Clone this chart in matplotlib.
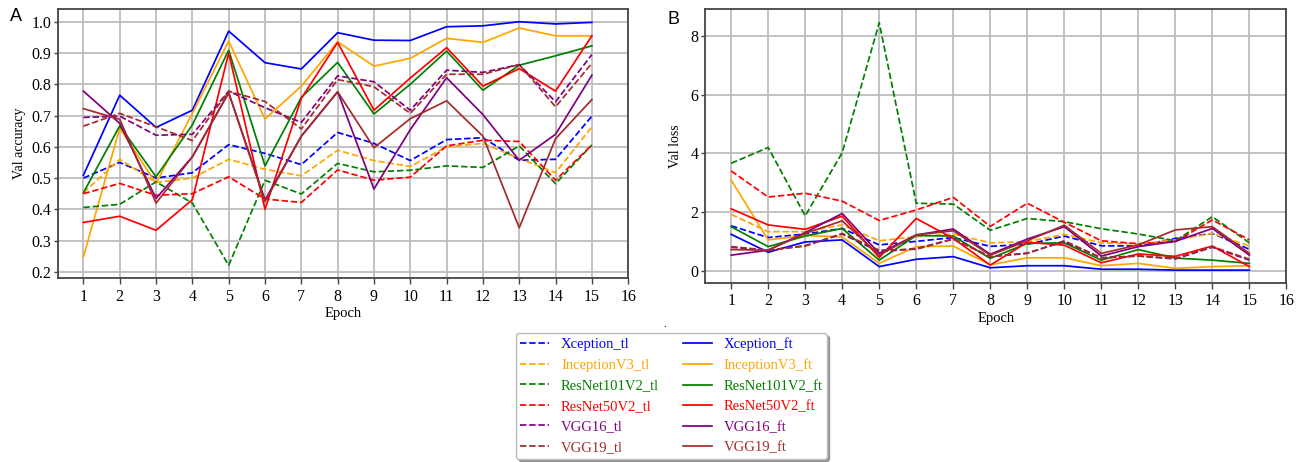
import matplotlib
matplotlib.use("Agg")
import matplotlib.pyplot as plt

epochs = list(range(1, 16))
models = ["Xception", "InceptionV3", "ResNet101V2", "ResNet50V2", "VGG16", "VGG19"]
colors = ["blue", "orange", "green", "red", "purple", "brown"]

# Validation accuracy (transfer learning = tl, fine tuning = ft)
acc_tl = {
    "Xception":    [0.50, 0.55, 0.50, 0.517, 0.607, 0.579, 0.543, 0.646, 0.611, 0.556, 0.623, 0.629, 0.557, 0.56, 0.698],
    "InceptionV3": [0.453, 0.56, 0.486, 0.50, 0.56, 0.528, 0.507, 0.589, 0.556, 0.537, 0.60, 0.611, 0.563, 0.517, 0.664],
    "ResNet101V2": [0.406, 0.416, 0.488, 0.42, 0.221, 0.493, 0.449, 0.547, 0.52, 0.525, 0.539, 0.534, 0.603, 0.482, 0.606],
    "ResNet50V2":  [0.45, 0.483, 0.445, 0.45, 0.504, 0.433, 0.422, 0.526, 0.493, 0.503, 0.603, 0.621, 0.617, 0.493, 0.606],
    "VGG16":       [0.694, 0.698, 0.637, 0.64, 0.778, 0.725, 0.678, 0.827, 0.808, 0.717, 0.845, 0.838, 0.863, 0.744, 0.895],
    "VGG19":       [0.666, 0.707, 0.664, 0.62, 0.778, 0.745, 0.657, 0.815, 0.792, 0.707, 0.832, 0.832, 0.863, 0.728, 0.867],
}
acc_ft = {
    "Xception":    [0.509, 0.765, 0.662, 0.717, 0.97, 0.869, 0.849, 0.965, 0.941, 0.94, 0.984, 0.987, 1.0, 0.993, 0.998],
    "InceptionV3": [0.248, 0.66, 0.483, 0.707, 0.938, 0.689, 0.794, 0.936, 0.858, 0.883, 0.947, 0.934, 0.98, 0.955, 0.955],
    "ResNet101V2": [0.453, 0.667, 0.504, 0.67, 0.909, 0.539, 0.758, 0.87, 0.705, 0.80, 0.906, 0.781, 0.861, 0.891, 0.923],
    "ResNet50V2":  [0.358, 0.378, 0.333, 0.431, 0.90, 0.40, 0.755, 0.934, 0.717, 0.82, 0.917, 0.794, 0.85, 0.778, 0.955],
    "VGG16":       [0.778, 0.675, 0.435, 0.568, 0.773, 0.43, 0.634, 0.776, 0.465, 0.655, 0.821, 0.703, 0.557, 0.64, 0.829],
    "VGG19":       [0.722, 0.688, 0.42, 0.568, 0.773, 0.425, 0.634, 0.776, 0.597, 0.69, 0.747, 0.634, 0.341, 0.626, 0.751],
}
# Validation loss
loss_tl = {
    "Xception":    [1.53, 1.13, 1.25, 1.44, 0.88, 1.0, 1.13, 0.83, 0.9, 1.18, 0.85, 0.84, 1.1, 1.27, 0.73],
    "InceptionV3": [1.92, 1.33, 1.33, 1.56, 1.02, 1.16, 1.25, 0.95, 0.99, 1.24, 0.95, 0.91, 1.05, 1.27, 0.84],
    "ResNet101V2": [3.66, 4.2, 1.87, 4.02, 8.45, 2.3, 2.27, 1.38, 1.78, 1.67, 1.43, 1.25, 1.02, 1.84, 0.95],
    "ResNet50V2":  [3.4, 2.51, 2.64, 2.37, 1.71, 2.07, 2.5, 1.51, 2.3, 1.65, 1.02, 0.92, 0.99, 1.73, 1.05],
    "VGG16":       [0.80, 0.70, 0.85, 1.25, 0.65, 0.75, 1.08, 0.48, 0.60, 0.99, 0.44, 0.50, 0.40, 0.80, 0.36],
    "VGG19":       [0.82, 0.70, 0.84, 1.27, 0.70, 0.73, 1.08, 0.48, 0.59, 1.02, 0.44, 0.50, 0.42, 0.82, 0.39],
}
loss_ft = {
    "Xception":    [1.24, 0.63, 0.98, 1.05, 0.14, 0.39, 0.48, 0.10, 0.17, 0.17, 0.05, 0.05, 0.02, 0.02, 0.02],
    "InceptionV3": [3.09, 1.05, 1.2, 1.15, 0.25, 0.82, 0.84, 0.2, 0.44, 0.44, 0.17, 0.25, 0.08, 0.14, 0.17],
    "ResNet101V2": [1.5, 0.82, 1.18, 1.44, 0.36, 1.2, 1.18, 0.42, 0.93, 0.95, 0.36, 0.72, 0.43, 0.36, 0.25],
    "ResNet50V2":  [2.11, 1.56, 1.41, 1.86, 0.45, 1.78, 1.1, 0.19, 0.97, 0.87, 0.27, 0.57, 0.49, 0.84, 0.14],
    "VGG16":       [0.53, 0.70, 1.3, 1.95, 0.59, 1.22, 1.42, 0.56, 1.08, 1.5, 0.5, 0.82, 1.0, 1.44, 0.53],
    "VGG19":       [0.72, 0.70, 1.27, 1.7, 0.53, 1.22, 1.36, 0.53, 1.02, 1.55, 0.59, 0.88, 1.39, 1.5, 0.59],
}

acc_ticks = [0.2, 0.3, 0.4, 0.5, 0.6, 0.7, 0.8, 0.9, 1.0]
loss_ticks = [0, 2, 4, 6, 8]
x_ticks = list(range(1, 17))

serif = "Liberation Serif"
plt.rcParams["font.family"] = serif

fig = plt.figure(figsize=(13.06, 4.62), dpi=100)
axA = fig.add_axes([0.0444, 0.398, 0.4366, 0.582])
axB = fig.add_axes([0.540, 0.388, 0.445, 0.592])

lw = 1.25
handles_tl, handles_ft = [], []
for m, c in zip(models, colors):
    h1, = axA.plot(epochs, acc_tl[m], color=c, ls="--", lw=lw, label=f"{m}_tl")
    h2, = axA.plot(epochs, acc_ft[m], color=c, ls="-", lw=lw, label=f"{m}_ft")
    axB.plot(epochs, loss_tl[m], color=c, ls="--", lw=lw)
    axB.plot(epochs, loss_ft[m], color=c, ls="-", lw=lw)
    handles_tl.append(h1)
    handles_ft.append(h2)

for ax in (axA, axB):
    ax.set_xticks(x_ticks)
    ax.set_xlim(0.3, 16)
    ax.grid(True, color="#bdbdbd", lw=1.3)
    ax.set_axisbelow(True)
    for s in ax.spines.values():
        s.set_color("#444444")
        s.set_linewidth(1.3)
    ax.tick_params(labelsize=11.5, length=4, color="#444444", width=1)
    ax.tick_params(axis="y", length=3, pad=2)
    ax.set_xlabel("Epoch", fontsize=10.5, labelpad=2)

axA.set_yticks(acc_ticks)
axA.set_yticklabels([f"{t:.1f}" for t in acc_ticks])
axA.set_ylim(0.18, 1.04)
axA.set_ylabel("Val accuracy", fontsize=10, labelpad=4)

axB.set_yticks(loss_ticks)
axB.set_ylim(-0.41, 8.91)
axB.set_ylabel("Val loss", fontsize=10, labelpad=6)

fig.text(0.008, 0.955, "A", fontsize=13, family="Liberation Sans")
fig.text(0.511, 0.948, "B", fontsize=13, family="Liberation Sans")
fig.text(0.508, 0.292, ".", fontsize=8)

leg = fig.legend(handles_tl + handles_ft,
                 [h.get_label() for h in handles_tl + handles_ft],
                 ncol=2, loc="upper center", bbox_to_anchor=(0.514, 0.279),
                 fontsize=10.5, shadow=True, fancybox=True, framealpha=1,
                 edgecolor="#bbbbbb", handlelength=2.0, handletextpad=0.8,
                 columnspacing=1.6, labelspacing=0.5, borderpad=0.3,
                 borderaxespad=0)
for txt, h in zip(leg.get_texts(), handles_tl + handles_ft):
    txt.set_color(h.get_color())

fig.savefig("out.png", dpi=100)
